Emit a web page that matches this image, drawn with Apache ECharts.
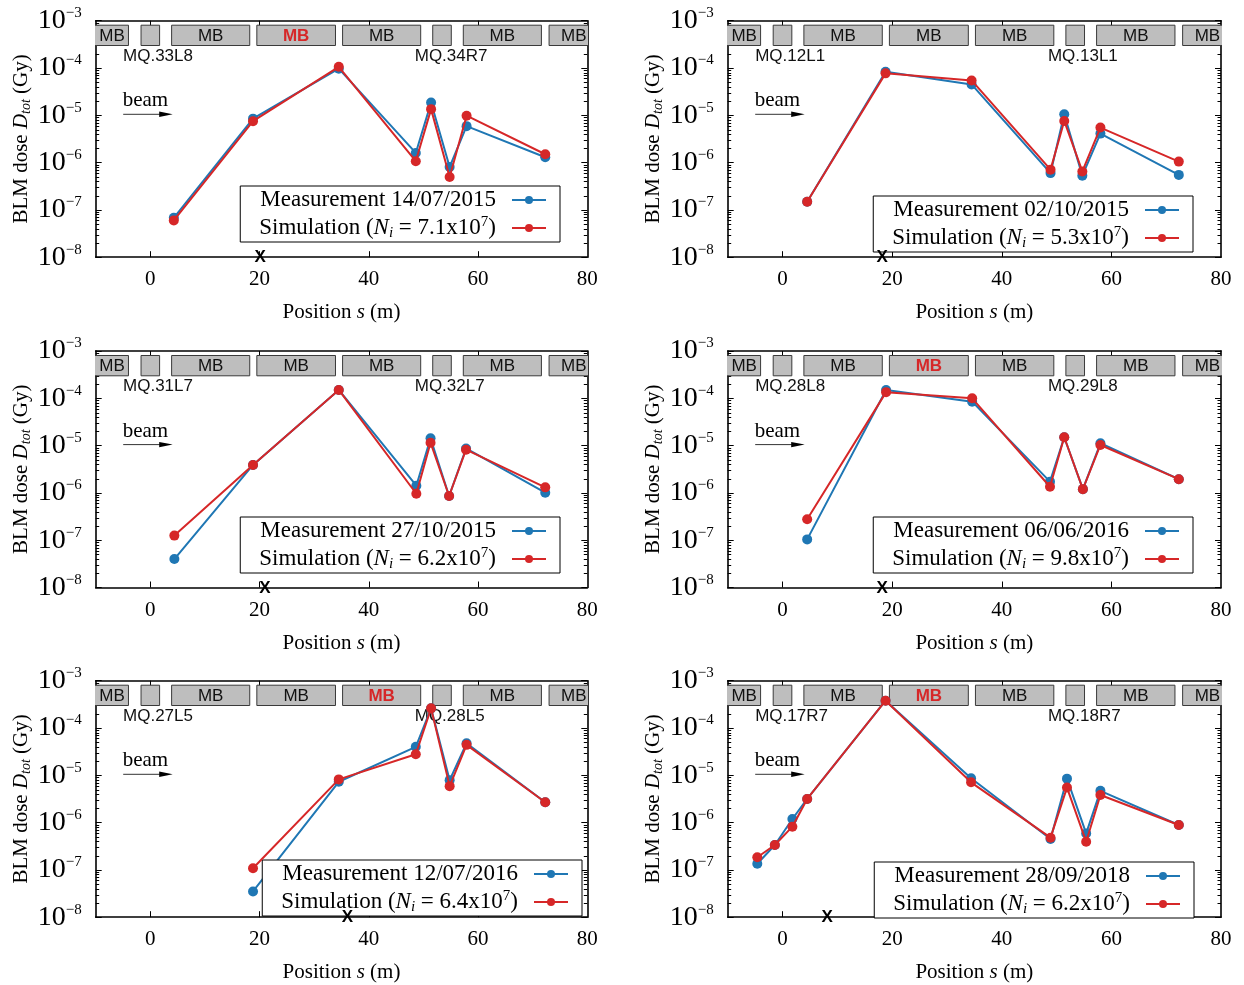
<!DOCTYPE html>
<html>
<head>
<meta charset="utf-8">
<script src="https://cdn.jsdelivr.net/npm/echarts@6/dist/echarts.min.js"></script>
<style>
  html, body { margin: 0; padding: 0; background: #fff; }
  #chart { width: 1244px; height: 985px; }
</style>
</head>
<body>
<div id="chart"></div>
<script>
// BLM positions s (m) and total doses (Gy): measurement vs. FLUKA simulation, one set per quench test
const s1 = [4.3, 18.8, 34.5, 48.6, 51.4, 54.8, 57.9, 72.3];
const meas1 = [6.8e-8, 8.5e-6, 9.7e-5, 1.6e-6, 1.86e-5, 8.1e-7, 5.9e-6, 1.3e-6];
const sim1 = [6.0e-8, 7.5e-6, 1.06e-4, 1.07e-6, 1.35e-5, 4.96e-7, 9.8e-6, 1.5e-6];

const s2 = [4.5, 18.8, 34.5, 48.9, 51.4, 54.7, 58.0, 72.3];
const meas2 = [1.49e-7, 8.3e-5, 4.5e-5, 6.0e-7, 1.05e-5, 5.3e-7, 4.1e-6, 5.5e-7];
const sim2 = [1.49e-7, 7.7e-5, 5.46e-5, 7.1e-7, 7.6e-6, 6.5e-7, 5.5e-6, 1.05e-6];

const s3 = [4.4, 18.8, 34.5, 48.7, 51.3, 54.7, 57.8, 72.3];
const meas3 = [4.0e-8, 3.9e-6, 1.5e-4, 1.42e-6, 1.43e-5, 8.6e-7, 8.7e-6, 1.01e-6];
const sim3 = [1.25e-7, 3.9e-6, 1.5e-4, 9.6e-7, 1.15e-5, 8.6e-7, 8.2e-6, 1.31e-6];

const s4 = [4.5, 18.9, 34.6, 48.8, 51.4, 54.8, 58.0, 72.3];
const meas4 = [1.04e-7, 1.5e-4, 8.5e-5, 1.73e-6, 1.5e-5, 1.2e-6, 1.12e-5, 1.95e-6];
const sim4 = [2.77e-7, 1.35e-4, 1.0e-4, 1.35e-6, 1.5e-5, 1.2e-6, 1.03e-5, 1.95e-6];

const s5 = [18.8, 34.5, 48.6, 51.4, 54.8, 57.9, 72.3];
const meas5 = [3.5e-8, 7.3e-6, 4.0e-5, 2.6e-4, 7.9e-6, 4.75e-5, 2.7e-6];
const sim5 = [1.08e-7, 8.2e-6, 2.78e-5, 2.6e-4, 5.9e-6, 4.4e-5, 2.7e-6];

const s6 = [-4.6, -1.4, 1.8, 4.5, 18.8, 34.4, 48.9, 51.9, 55.4, 58.0, 72.3];
const meas6 = [1.35e-7, 3.36e-7, 1.19e-6, 3.16e-6, 3.78e-4, 8.65e-6, 4.5e-7, 8.5e-6, 5.9e-7, 4.7e-6, 8.9e-7];
const sim6 = [1.85e-7, 3.36e-7, 8.2e-7, 3.16e-6, 3.78e-4, 7.1e-6, 4.8e-7, 5.5e-6, 3.95e-7, 3.83e-6, 8.9e-7];

// Test metadata
const testDates = ['14/07/2015', '02/10/2015', '27/10/2015', '06/06/2016', '12/07/2016', '28/09/2018'];
const ionsPerTest = ['7.1', '5.3', '6.2', '9.8', '6.4', '6.2'];
const quadNames = [
  ['MQ.33L8', 'MQ.34R7'], ['MQ.12L1', 'MQ.13L1'], ['MQ.31L7', 'MQ.32L7'],
  ['MQ.28L8', 'MQ.29L8'], ['MQ.27L5', 'MQ.28L5'], ['MQ.17R7', 'MQ.18R7']
];
const quenchedDipole = [3, -1, -1, 3, 4, 3];   // index into the magnet list, -1 = none
const lossPosition = [20.1, 18.2, 21.0, 18.2, 36.1, 8.15];

// Half-cell magnet layout (m)
const magnetStart = [-14.3, -1.7, 3.9, 19.5, 35.2, 51.7, 57.3, 73.0];
const magnetEnd = [-4.0, 1.7, 18.2, 33.9, 49.5, 55.1, 71.6, 87.3];
const magnetType = ['MB', 'MQ', 'MB', 'MB', 'MB', 'MQ', 'MB', 'MB'];

// Axis ticks
const xTickLabels = [0, 20, 40, 60, 80];
const xTickMarks = [0, 20, 40, 60];

const panels = [
  { s: s1, meas: meas1, sim: sim1 },
  { s: s2, meas: meas2, sim: sim2 },
  { s: s3, meas: meas3, sim: sim3 },
  { s: s4, meas: meas4, sim: sim4 },
  { s: s5, meas: meas5, sim: sim5 },
  { s: s6, meas: meas6, sim: sim6 }
];

const SERIF = '"Liberation Serif", "Times New Roman", serif';
const SANS = '"Liberation Sans", Arial, Helvetica, sans-serif';
const BLUE = '#1f77b4';
const RED = '#d62728';

const cols = [{ left: 95.7, width: 491.6 }, { left: 727.7, width: 493.3 }];
const rowTops = [20.7, 351, 680.7];
const plotH = 236.5;

const legendRight = [684, 51, 684, 51, 662, 50];
const legendTop = [186, 196, 517, 517, 860, 862];

// log-axis minor ticks 2..9 per decade
const minorVals = [];
for (let e = -8; e < -3; e++) {
  for (let m = 2; m <= 9; m++) minorVals.push(m * Math.pow(10, e));
}

const legendText = {};
const grids = [], xAxes = [], yAxes = [], series = [], legends = [], graphics = [];

const yTickFormatter = function (v) {
  const e = Math.round(Math.log10(v));
  return '{a|10}{b|' + (e < 0 ? '\u2212' : '') + Math.abs(e) + '}';
};

panels.forEach(function (d, g) {
  const col = cols[g % 2];
  const top = rowTops[Math.floor(g / 2)];
  grids.push({ left: col.left, top: top, width: col.width, height: plotH, containLabel: false });

  const axisLine = { show: true, onZero: false, lineStyle: { color: '#000', width: 1.6 } };
  xAxes.push({
    type: 'value', gridIndex: g, position: 'bottom', min: -10, max: 80,
    axisLine: axisLine,
    axisTick: { show: true, inside: true, length: 6, customValues: xTickMarks, lineStyle: { color: '#000', width: 1 } },
    axisLabel: { show: true, customValues: xTickLabels, margin: 12, color: '#000', fontFamily: SERIF, fontSize: 21 },
    splitLine: { show: false },
    name: 'Position {i|s} (m)', nameLocation: 'middle', nameGap: 45,
    nameTextStyle: { color: '#000', fontFamily: SERIF, fontSize: 21,
      rich: { i: { fontFamily: SERIF, fontSize: 21, fontStyle: 'italic', color: '#000' } } }
  });
  xAxes.push({
    type: 'value', gridIndex: g, position: 'top', min: -10, max: 80,
    axisLine: axisLine,
    axisTick: { show: true, inside: true, length: 5, customValues: xTickMarks, lineStyle: { color: '#000', width: 1 } },
    axisLabel: { show: false }, splitLine: { show: false }
  });
  yAxes.push({
    type: 'log', logBase: 10, gridIndex: g, position: 'left', min: 1e-8, max: 1e-3, splitNumber: 5,
    axisLine: axisLine,
    axisTick: { show: true, inside: true, length: 6, lineStyle: { color: '#000', width: 1 } },
    axisLabel: {
      show: true, margin: 14, formatter: yTickFormatter,
      rich: {
        a: { fontFamily: SERIF, fontSize: 28, lineHeight: 30, color: '#000' },
        b: { fontFamily: SERIF, fontSize: 15, lineHeight: 16, verticalAlign: 'top', color: '#000' }
      }
    },
    splitLine: { show: false },
    name: 'BLM dose {i|D}{sub|tot} (Gy)', nameLocation: 'middle', nameGap: 62, nameRotate: 90,
    nameTextStyle: { color: '#000', fontFamily: SERIF, fontSize: 21, lineHeight: 24,
      rich: {
        i: { fontFamily: SERIF, fontSize: 21, fontStyle: 'italic', color: '#000', lineHeight: 24 },
        sub: { fontFamily: SERIF, fontSize: 14, fontStyle: 'italic', color: '#000', lineHeight: 14, verticalAlign: 'bottom' }
      } }
  });
  yAxes.push({
    type: 'log', logBase: 10, gridIndex: g, position: 'right', min: 1e-8, max: 1e-3, splitNumber: 5,
    axisLine: axisLine,
    axisTick: { show: true, inside: true, length: 6, lineStyle: { color: '#000', width: 1 } },
    axisLabel: { show: false }, splitLine: { show: false }
  });

  const xi = 2 * g, yi = 2 * g;

  // minor log ticks on both vertical axes
  series.push({
    type: 'custom', xAxisIndex: xi, yAxisIndex: yi, clip: false, silent: true, z: 1,
    data: minorVals.map(function (v) { return [0, v]; }),
    encode: { x: 0, y: 1 },
    renderItem: function (params, api) {
      const cs = params.coordSys;
      const y = Math.round(api.coord([0, api.value(1)])[1]) + 0.5;
      return {
        type: 'group', children: [
          { type: 'line', shape: { x1: cs.x, y1: y, x2: cs.x + 3.5, y2: y }, style: { stroke: '#000', lineWidth: 1 } },
          { type: 'line', shape: { x1: cs.x + cs.width - 3.5, y1: y, x2: cs.x + cs.width, y2: y }, style: { stroke: '#000', lineWidth: 1 } }
        ]
      };
    }
  });

  // magnets along the beam line
  series.push({
    type: 'custom', xAxisIndex: xi, yAxisIndex: yi, clip: true, silent: true, z: 2,
    data: magnetStart.map(function (x, i) { return [x, 1e-3, i]; }),
    encode: { x: 0, y: 1 },
    renderItem: function (params, api) {
      const i = api.value(2);
      const cs = params.coordSys;
      const x0 = api.coord([magnetStart[i], 1e-3])[0];
      const x1 = api.coord([magnetEnd[i], 1e-3])[0];
      const by = cs.y + 4.5, bh = 20.3;
      const kids = [{
        type: 'rect', shape: { x: x0, y: by, width: x1 - x0, height: bh },
        style: { fill: '#bebebe', stroke: '#3a3a3a', lineWidth: 1 }
      }];
      if (magnetType[i] === 'MB') {
        const hot = quenchedDipole[g] === i;
        const right = cs.x + cs.width;
        let tx, align;
        if (x1 > right) { tx = x0 + 12; align = 'left'; }
        else { tx = (Math.max(x0, cs.x) + x1) / 2; align = 'center'; }
        kids.push({
          type: 'text',
          style: { x: tx, y: by + bh / 2 + 0.5, text: 'MB', align: align, verticalAlign: 'middle',
            fontFamily: SANS, fontSize: 17, fontWeight: hot ? 'bold' : 'normal', fill: hot ? RED : '#111' }
        });
      } else {
        const q = magnetType.slice(0, i).filter(function (t) { return t === 'MQ'; }).length;
        kids.push({
          type: 'text',
          style: { x: x0 - 18, y: cs.y + 35.5, text: quadNames[g][q], align: 'left', verticalAlign: 'middle',
            fontFamily: SANS, fontSize: 17, fill: '#111' }
        });
      }
      return { type: 'group', children: kids };
    }
  });

  const measName = 'meas-' + g, simName = 'sim-' + g;
  legendText[measName] = 'Measurement ' + testDates[g];
  legendText[simName] = 'Simulation ({it|N}{sub|i} = ' + ionsPerTest[g] + 'x10{sup|7})';

  series.push({
    type: 'line', name: measName, xAxisIndex: xi, yAxisIndex: yi,
    data: d.s.map(function (x, i) { return [x, d.meas[i]]; }),
    symbol: 'circle', symbolSize: 10, z: 3,
    lineStyle: { color: BLUE, width: 2 }, itemStyle: { color: BLUE }
  });
  series.push({
    type: 'line', name: simName, xAxisIndex: xi, yAxisIndex: yi,
    data: d.s.map(function (x, i) { return [x, d.sim[i]]; }),
    symbol: 'circle', symbolSize: 10, z: 4,
    lineStyle: { color: RED, width: 2 }, itemStyle: { color: RED }
  });

  // loss location marker on the s axis
  series.push({
    type: 'custom', xAxisIndex: xi, yAxisIndex: yi, clip: false, silent: true, z: 6,
    data: [[lossPosition[g], 1e-8]],
    encode: { x: 0, y: 1 },
    renderItem: function (params, api) {
      const p = api.coord([api.value(0), api.value(1)]);
      return {
        type: 'text',
        style: { x: p[0], y: p[1] + 0.5, text: 'X', align: 'center', verticalAlign: 'middle',
          fontFamily: SANS, fontWeight: 'bold', fontSize: 17, fill: '#000' }
      };
    }
  });

  legends.push({
    show: true, orient: 'vertical', align: 'right',
    right: legendRight[g], top: legendTop[g],
    data: [measName, simName],
    selectedMode: false,
    itemWidth: 34, itemHeight: 10, itemGap: 2,
    padding: [1, 13, 1, 19],
    borderColor: '#000', borderWidth: 1, backgroundColor: '#fff',
    formatter: function (name) { return legendText[name]; },
    textStyle: {
      color: '#000', fontFamily: SERIF, fontSize: 23, lineHeight: 26, padding: [0, 11, 0, 0],
      rich: {
        it: { fontFamily: SERIF, fontSize: 23, fontStyle: 'italic', lineHeight: 26, color: '#000' },
        sub: { fontFamily: SERIF, fontSize: 15, fontStyle: 'italic', lineHeight: 15, verticalAlign: 'bottom', color: '#000' },
        sup: { fontFamily: SERIF, fontSize: 15, lineHeight: 15, verticalAlign: 'top', color: '#000' }
      }
    }
  });

  // beam direction
  const L = col.left, T = top;
  graphics.push({
    type: 'text', x: L + 27, y: T + 80, silent: true,
    style: { text: 'beam', fontFamily: SERIF, fontSize: 21, fill: '#000', verticalAlign: 'middle', align: 'left' }
  });
  graphics.push({
    type: 'line', silent: true,
    shape: { x1: L + 27.5, y1: T + 93.6, x2: L + 66, y2: T + 93.6 },
    style: { stroke: '#333', lineWidth: 1 }
  });
  graphics.push({
    type: 'polygon', silent: true,
    shape: { points: [[L + 77, T + 93.6], [L + 63.5, T + 90.9], [L + 63.5, T + 96.3]] },
    style: { fill: '#000' }
  });
});

const chart = echarts.init(document.getElementById('chart'), null, { renderer: 'canvas' });
chart.setOption({
  animation: false,
  backgroundColor: '#fff',
  grid: grids,
  xAxis: xAxes,
  yAxis: yAxes,
  legend: legends,
  graphic: { elements: graphics },
  series: series
});
</script>
</body>
</html>
